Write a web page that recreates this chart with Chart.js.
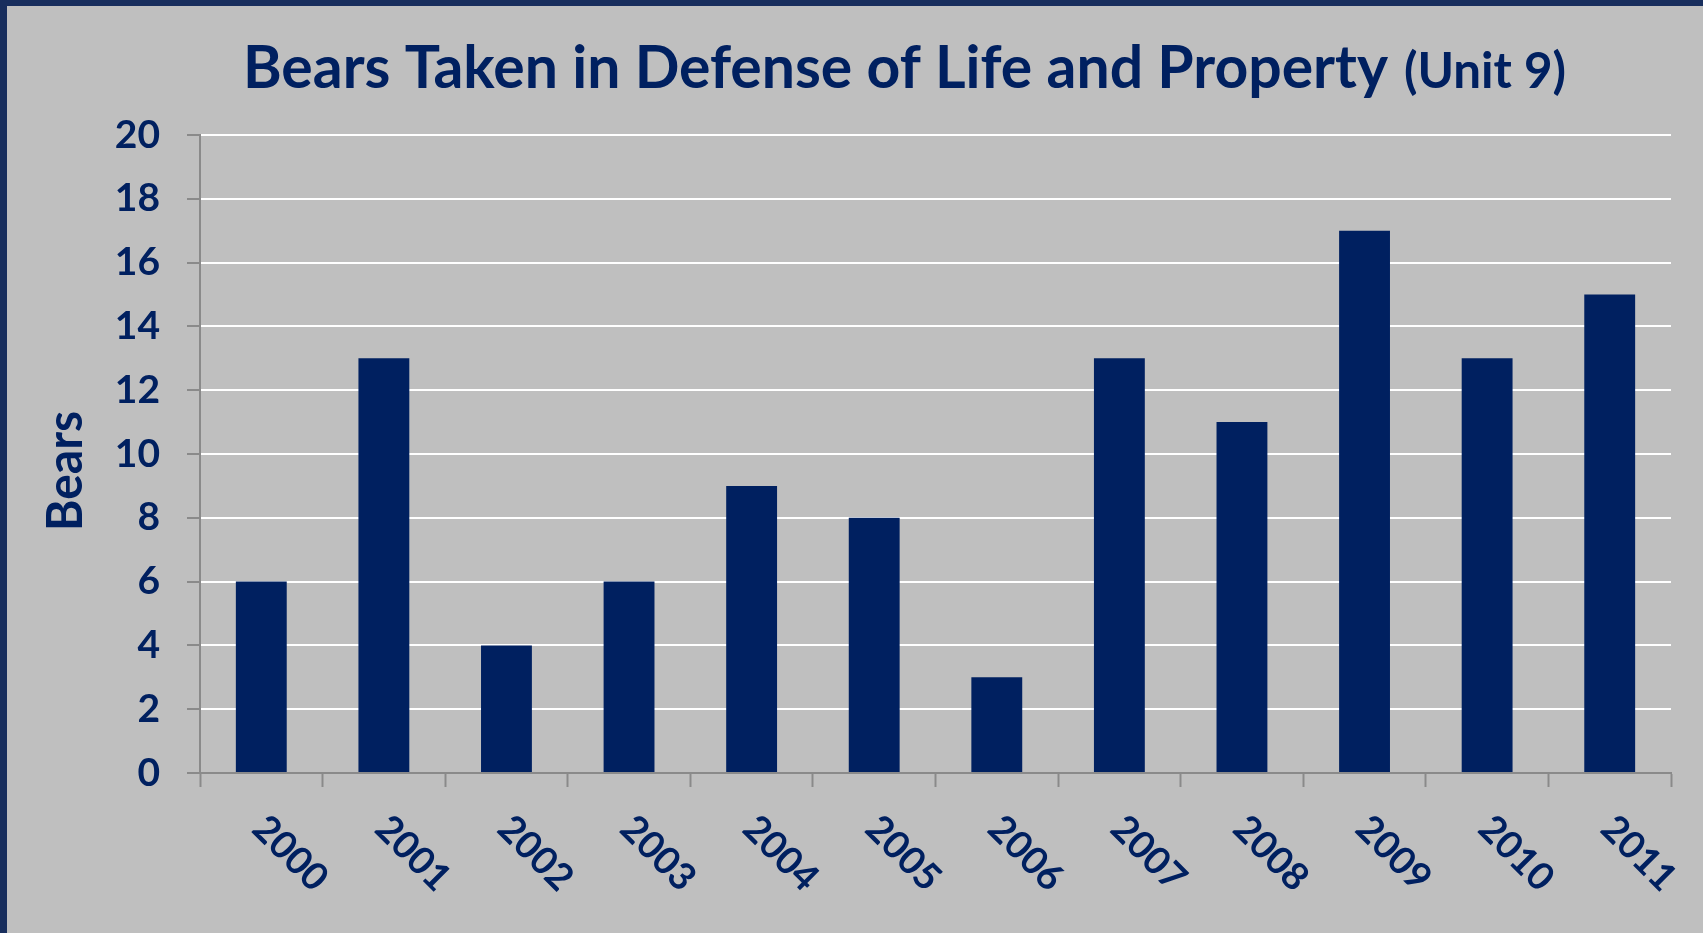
<!DOCTYPE html>
<html>
<head>
<meta charset="utf-8">
<script src="https://cdn.jsdelivr.net/npm/chart.js@4.4.1/dist/chart.umd.min.js"></script>
<style>
  html, body { margin: 0; padding: 0; overflow: hidden; background: #bfbfbf; }
  #wrap {
    position: relative; width: 1703px; height: 933px; box-sizing: border-box;
    background: #bfbfbf; border-top: 6px solid #182e5d; border-left: 7px solid #182e5d;
  }
  #c { position: absolute; left: -7px; top: -6px; width: 1703px; height: 933px; }
</style>
</head>
<body>
<div id="wrap"><canvas id="c" width="1703" height="933"></canvas></div>
<script>
// ---- data ----
const years = ['2000','2001','2002','2003','2004','2005','2006','2007','2008','2009','2010','2011'];
const bearsTaken = [6, 13, 4, 6, 9, 8, 3, 13, 11, 17, 13, 15];
const yMin = 0;
const yMax = 20;
const yStep = 2;
const titleMain = 'Bears Taken in Defense of Life and Property';
const titleSub = '(Unit 9)';
const yTitle = 'Bears';

// ---- style ----
const NAVY = '#002060';
const GRAY = '#8a8a8a';
const FONT = 'Lato, "Open Sans", sans-serif';

const textPlugin = {
  id: 'textPlugin',
  afterDraw(chart) {
    const ctx = chart.ctx;
    const x = chart.scales.x;
    const y = chart.scales.y;
    ctx.save();
    ctx.fillStyle = NAVY;
    // Title
    ctx.textAlign = 'left';
    ctx.textBaseline = 'alphabetic';
    ctx.font = 'bold 59px ' + FONT;
    ctx.fillText(titleMain, 243, 88, 1145);
    ctx.font = 'bold 50px ' + FONT;
    ctx.fillText(titleSub, 1404, 88, 162);
    // x category labels, rotated clockwise
    ctx.font = 'bold 38px ' + FONT;
    years.forEach((lab, i) => {
      const px = x.getPixelForTick(i);
      ctx.save();
      ctx.translate(px - 11, x.top + 58);
      ctx.rotate(Math.PI / 4);
      ctx.textAlign = 'left';
      ctx.textBaseline = 'alphabetic';
      ctx.fillText(lab, 0, 0);
      ctx.restore();
    });
    // y axis title
    ctx.save();
    ctx.font = 'bold 50px ' + FONT;
    ctx.translate(82, (y.top + y.bottom) / 2 + 17);
    ctx.rotate(-Math.PI / 2);
    ctx.textAlign = 'center';
    ctx.textBaseline = 'alphabetic';
    ctx.fillText(yTitle, 0, 0, 120);
    ctx.restore();
    ctx.restore();
  }
};

function build() {
  new Chart(document.getElementById('c'), {
    type: 'bar',
    data: {
      labels: years,
      datasets: [{
        data: bearsTaken,
        backgroundColor: NAVY,
        borderWidth: 0,
        categoryPercentage: 1.0,
        barPercentage: 0.415
      }]
    },
    options: {
      responsive: false,
      animation: false,
      devicePixelRatio: 1,
      layout: { padding: { top: 135, right: 32, left: 0, bottom: 0 } },
      plugins: { legend: { display: false }, tooltip: { enabled: false }, title: { display: false } },
      scales: {
        x: {
          offset: true,
          grid: { display: true, offset: true, drawOnChartArea: false, drawTicks: true,
                  tickLength: 14, tickColor: GRAY, tickWidth: 2 },
          border: { display: true, color: GRAY, width: 2 },
          ticks: { display: false },
          afterFit(s) { s.height = 160; }
        },
        y: {
          min: yMin, max: yMax,
          ticks: { stepSize: yStep, color: NAVY, padding: 27,
                   font: { family: FONT, weight: 'bold', size: 39 } },
          grid: { color: (c) => (c.tick && c.tick.value === 0 ? 'rgba(0,0,0,0)' : '#ffffff'),
                  lineWidth: 2, drawTicks: true, tickLength: 13, tickColor: GRAY, tickWidth: 2 },
          border: { display: true, color: GRAY, width: 2 },
          afterFit(s) { s.width = 200; }
        }
      }
    },
    plugins: [textPlugin]
  });
}

if (document.fonts && document.fonts.load) {
  Promise.all([document.fonts.load('bold 39px Lato'), document.fonts.load('bold 59px Lato')])
    .then(build, build);
} else { build(); }
</script>
</body>
</html>
